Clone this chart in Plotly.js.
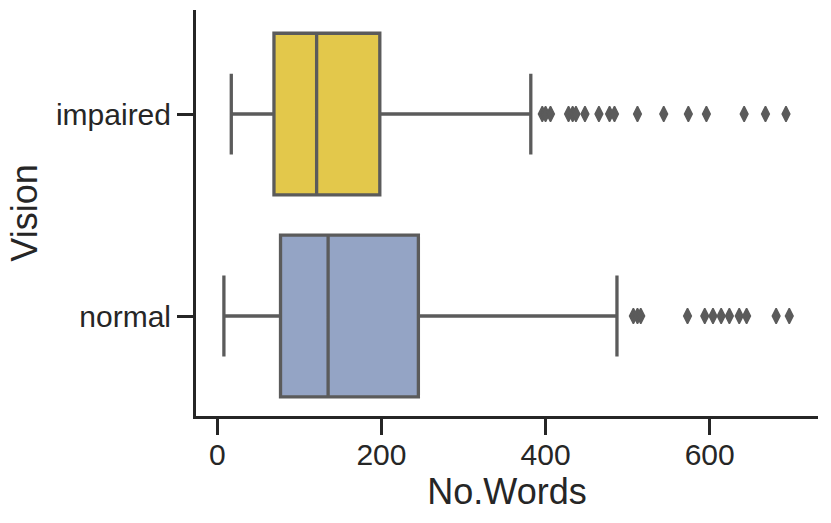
<!DOCTYPE html>
<html>
<head>
<meta charset="utf-8">
<script src="https://cdn.plot.ly/plotly-3.0.1.min.js"></script>
<style>
  html, body { margin: 0; padding: 0; background: #fff; }
  #chart { width: 831px; height: 523px; }
</style>
</head>
<body>
<div id="chart"></div>
<script>
// groups, top to bottom in the picture
const groups = ['impaired', 'normal'];

// box statistics (No.Words)
const q1 = [69, 77];
const medians = [121, 135];
const q3 = [198, 245];
const lowerWhisker = [17, 8];
const upperWhisker = [382, 487];

// outliers beyond the whiskers
const impairedOutliers = [396, 400, 406, 428, 433, 437, 448, 465, 478, 484, 512, 544, 574, 596, 642, 668, 693];
const normalOutliers = [507, 512, 516, 573, 594, 604, 614, 624, 636, 645, 681, 697];

const fills = ['#e3c84b', '#94a4c5'];
const edge = '#5b5b5b';
const ink = '#262626';
const font = 'Liberation Sans, Arial, Helvetica, sans-serif';

const traces = groups.map((g, i) => ({
    type: 'box',
    orientation: 'h',
    name: g,
    y: [g],
    q1: [q1[i]],
    median: [medians[i]],
    q3: [q3[i]],
    lowerfence: [lowerWhisker[i]],
    upperfence: [upperWhisker[i]],
    boxpoints: false,
    width: 0.8,
    whiskerwidth: 0.5,
    fillcolor: fills[i],
    line: { color: edge, width: 3.3 },
    hoverinfo: 'x'
}));

const outlierSets = [impairedOutliers, normalOutliers];
outlierSets.forEach((vals, i) => {
    traces.push({
        type: 'scatter',
        mode: 'markers',
        x: vals,
        y: vals.map(() => groups[i]),
        marker: {
            symbol: 'diamond-tall',
            size: 11,
            color: edge,
            line: { color: edge, width: 1.5 }
        },
        hoverinfo: 'x'
    });
});

const layout = {
    width: 831,
    height: 523,
    margin: { l: 196, r: 13, t: 10, b: 107 },
    paper_bgcolor: '#ffffff',
    plot_bgcolor: '#ffffff',
    showlegend: false,
    boxmode: 'overlay',
    font: { family: font, color: ink, size: 30 },
    xaxis: {
        range: [-26, 732],
        tickvals: [0, 200, 400, 600],
        ticks: 'outside',
        ticklen: 16,
        tickwidth: 3,
        tickcolor: ink,
        ticklabelstandoff: -6,
        showline: true,
        linecolor: ink,
        linewidth: 3,
        showgrid: false,
        zeroline: false,
        tickfont: { size: 30, color: ink },
        title: { text: 'No.Words', font: { size: 36, color: ink }, standoff: 2 }
    },
    yaxis: {
        type: 'category',
        categoryorder: 'array',
        categoryarray: ['normal', 'impaired'],
        range: [-0.495, 1.515],
        ticks: 'outside',
        ticklen: 16,
        tickwidth: 3,
        tickcolor: ink,
        showline: true,
        linecolor: ink,
        linewidth: 3,
        showgrid: false,
        zeroline: false,
        tickfont: { size: 30, color: ink },
        title: { text: 'Vision', font: { size: 36, color: ink }, standoff: 8 }
    }
};

Plotly.newPlot('chart', traces, layout, { displayModeBar: false, staticPlot: true });
</script>
</body>
</html>
